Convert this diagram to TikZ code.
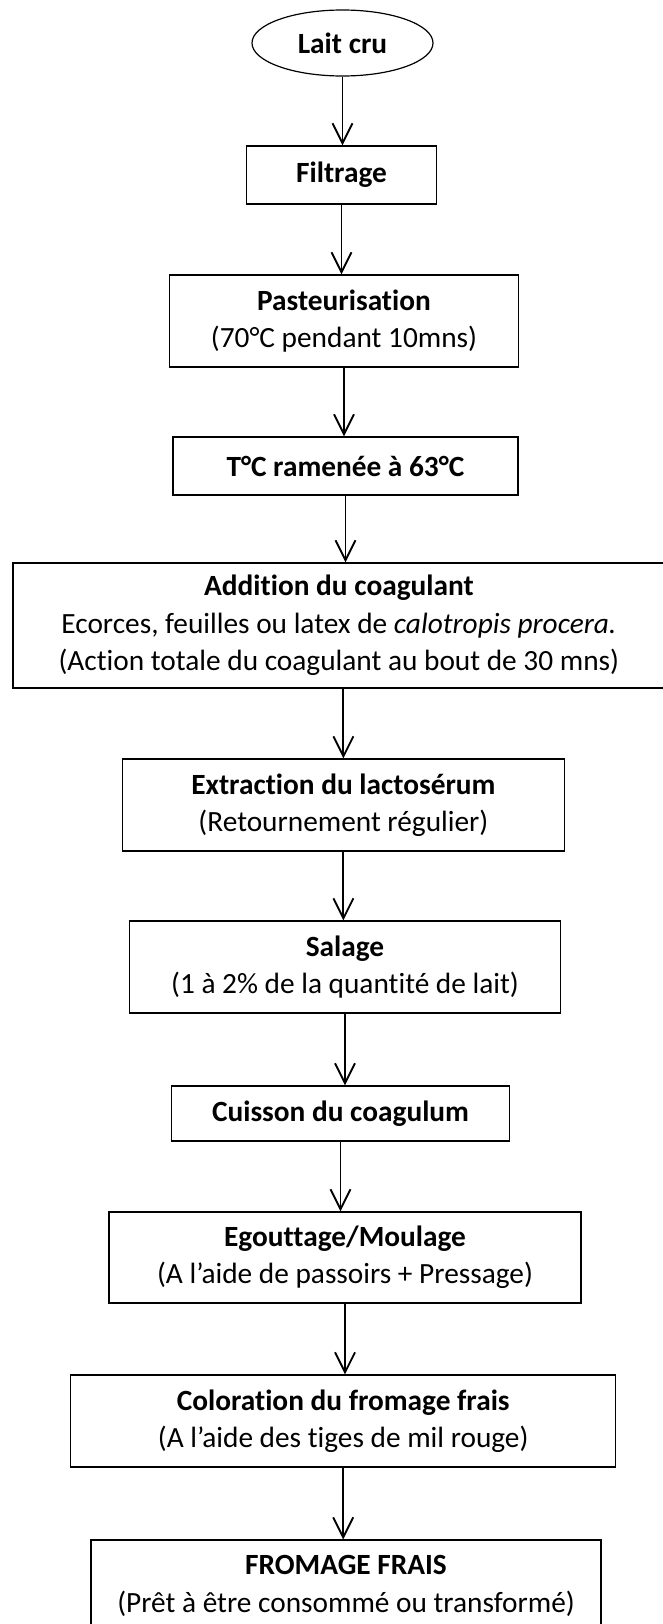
\documentclass[tikz,border=0pt]{standalone}
\usepackage{fontspec}
\setmainfont{Carlito}[Ligatures=NoCommon]
\usetikzlibrary{arrows.meta,shapes.geometric}

\begin{document}
\begin{tikzpicture}[x=0.75pt,y=0.75pt,yscale=-1,xscale=1,
    stepbox/.style={draw, line width=0.9pt, inner sep=0pt, align=center,
      font=\fontsize{22}{28}\selectfont},
    flow/.style={line width=1.4pt, -{Straight Barb[length=15pt,width=15pt]}}]
%set diagram size: 662 x 1624
\useasboundingbox (0,0) rectangle (662,1624);

%Shape: Ellipse
\node [stepbox, ellipse, minimum width=135.75pt, minimum height=49.5pt] (lait) at (342.5,43) {\textbf{Lait cru}};
%Shape: Rectangle
\node [stepbox, minimum width=142.5pt, minimum height=43.5pt] (filtrage) at (341.5,175) {\textbf{Filtrage}};
%Shape: Rectangle
\node [stepbox, minimum width=261.75pt, minimum height=69pt] (pasteur) at (344,321) {\textbf{Pasteurisation}\\(70°C pendant 10mns)};
%Shape: Rectangle
\node [stepbox, minimum width=258.75pt, minimum height=43.5pt] (temp) at (345.5,466) {\textbf{T°C ramenée à 63°C}};
%Shape: Rectangle (right side runs past the page edge)
\node [stepbox, minimum width=489pt, minimum height=93.75pt] (coag) at (338.9,625.5) {\textbf{Addition du coagulant}\\Ecorces, feuilles ou latex de \textit{calotropis procera.}\\(Action totale du coagulant au bout de 30 mns)};
%Shape: Rectangle
\node [stepbox, minimum width=331.5pt, minimum height=69pt] (extract) at (343.4,805) {\textbf{Extraction du lactosérum}\\(Retournement régulier)};
%Shape: Rectangle
\node [stepbox, minimum width=323.25pt, minimum height=69pt] (salage) at (345,967) {\textbf{Salage}\\(1 à 2\% de la quantité de lait)};
%Shape: Rectangle
\node [stepbox, minimum width=253.5pt, minimum height=41.25pt] (cuisson) at (340.5,1113.5) {\textbf{Cuisson du coagulum}};
%Shape: Rectangle
\node [stepbox, minimum width=354pt, minimum height=68.25pt] (egout) at (345,1257.5) {\textbf{Egouttage/Moulage}\\(A l’aide de passoirs + Pressage)};
%Shape: Rectangle
\node [stepbox, minimum width=408.75pt, minimum height=69pt] (color) at (343.2,1421) {\textbf{Coloration du fromage frais}\\(A l’aide des tiges de mil rouge)};
%Shape: Rectangle (bottom runs past the page edge)
\node [stepbox, minimum width=382.5pt, minimum height=69pt] (fromage) at (346,1586) {\textbf{FROMAGE FRAIS}\\(Prêt à être consommé ou transformé)};

%Straight Lines
\draw [flow] (lait.south) -- (lait.south |- filtrage.north);
\draw [flow] (filtrage.south) -- (filtrage.south |- pasteur.north);
\draw [flow] (pasteur.south) -- (pasteur.south |- temp.north);
\draw [flow] (temp.south) -- (temp.south |- coag.north);
\draw [flow] (extract.north |- coag.south) -- (extract.north);
\draw [flow] (extract.south) -- (extract.south |- salage.north);
\draw [flow] (salage.south) -- (salage.south |- cuisson.north);
\draw [flow] (cuisson.south) -- (cuisson.south |- egout.north);
\draw [flow] (egout.south) -- (egout.south |- color.north);
\draw [flow] (color.south) -- (color.south |- fromage.north);

\end{tikzpicture}
\end{document}
